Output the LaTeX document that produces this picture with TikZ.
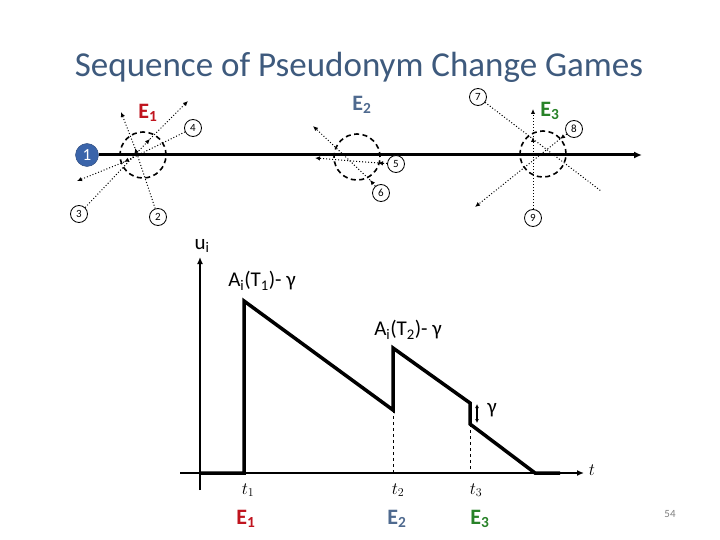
\documentclass[tikz,border=0pt]{standalone}
\usepackage{fontspec}
\setmainfont{Carlito}
\usetikzlibrary{arrows.meta}
\definecolor{titleblue}{RGB}{62,90,125}
\definecolor{ered}{RGB}{192,20,30}
\definecolor{eblue}{RGB}{79,106,143}
\definecolor{egreen}{RGB}{40,130,40}
\definecolor{ballblue}{RGB}{58,100,170}

\begin{document}
\begin{tikzpicture}[x=1pt,y=-1pt,
    num/.style={circle,draw,line width=0.8pt,inner sep=0pt,minimum size=17pt,font=\fontsize{11}{11}\selectfont},
    zone/.style={circle,draw,line width=1.6pt,dash pattern=on 5pt off 3.5pt,minimum size=46pt,inner sep=0pt},
    traj/.style={dotted,line width=1pt},
    tip/.style={-{Latex[length=5pt,width=4.5pt]}},
    elab/.style={font=\bfseries\fontsize{22}{22}\selectfont},
    lab/.style={font=\fontsize{21}{21}\selectfont},
    tlab/.style={font=\fontsize{18}{18}\selectfont}]
\useasboundingbox (0,0) rectangle (720,540);

\node[text=titleblue,font=\fontsize{35}{40}\selectfont] (title) at (359,67) {Sequence of Pseudonym Change Games};

% road and mix zones
\node[circle,fill=ballblue,draw=ballblue!70!black,minimum size=23pt,inner sep=0pt,text=white,font=\fontsize{17}{17}\selectfont] (v1) at (87,155) {1};
\coordinate (lend) at (642,155);
\draw[line width=3pt,-{Latex[length=8pt,width=7pt]}] (v1) -- (lend);

\node[zone] (z1) at (143,155) {};
\node[zone] (z2) at (357,157) {};
\node[zone] (z3) at (543,154) {};

\node[elab,text=ered] (e1) at (148,113) {E\textsubscript{1}};
\node[elab,text=eblue] (e2) at (362,105) {E\textsubscript{2}};
\node[elab,text=egreen] (e3) at (550,111) {E\textsubscript{3}};

\foreach \n/\p in {2/{158,217},3/{79,214},4/{193,128},5/{396,164},6/{381,193},7/{478,97},8/{574,129},9/{533,218}}
    \node[num,fill=white] (n\n) at (\p) {\n};

% trajectories through the zones
\foreach \n/\a/\b in {4/{124,162}/{77,181},3/{150,139}/{188,101},2/{135,148}/{121,112},5/{378,163}/{315,158},6/{370,180}/{313,126},8/{560,139}/{475,207},9/{533,137}/{533,109}} {
    \coordinate (in\n) at (\a);
    \coordinate (out\n) at (\b);
    \draw[traj,tip] (n\n) -- (in\n);
    \draw[traj,tip] (in\n) -- (out\n);
}
\coordinate (out7) at (601,191);
\draw[traj] (n7) -- (out7);

% utility over time
\coordinate (ybot) at (200,490);
\coordinate (ytop) at (200,257);
\coordinate (xl) at (180,473);
\coordinate (xr) at (584,473);
\draw[line width=2.8pt,-{Latex[length=7pt,width=6pt]}] (ybot) -- (ytop);
\draw[line width=2.4pt,-{Latex[length=7pt,width=6pt]}] (xl) -- (xr);
\draw[line width=3.5pt,line join=miter] (200,473) -- (244,473) -- (244,301) -- (393,410) -- (393,348)
    -- (470,403) -- (470,424) -- (535,473) -- (560,473);
\draw[dashed,line width=0.7pt] (393,410) -- (393,473);
\draw[dashed,line width=0.7pt] (470,424) -- (470,473);
\draw[line width=1.5pt,{Latex[length=4pt,width=4pt]}-{Latex[length=4pt,width=4pt]}] (477,404) -- (477,423);

\node[lab] (ui) at (202,246) {u\textsubscript{i}};
\node[font=\fontsize{19}{19}\selectfont] (tx) at (592,470) {$t$};
\node[lab] (a1) at (262,281) {A\textsubscript{i}(T\textsubscript{1})- γ};
\node[lab] (a2) at (408,330) {A\textsubscript{i}(T\textsubscript{2})- γ};
\node[lab] (g) at (492,410) {γ};

\node[tlab] (t1) at (248,490) {$t_1$};
\node[tlab] (t2) at (398,490) {$t_2$};
\node[tlab] (t3) at (476,490) {$t_3$};
\node[elab,text=ered] (b1) at (246,519) {E\textsubscript{1}};
\node[elab,text=eblue] (b2) at (397,519) {E\textsubscript{2}};
\node[elab,text=egreen] (b3) at (480,519) {E\textsubscript{3}};

\node[text=gray,font=\fontsize{11}{11}\selectfont] (page) at (670,514) {54};
\end{tikzpicture}
\end{document}
